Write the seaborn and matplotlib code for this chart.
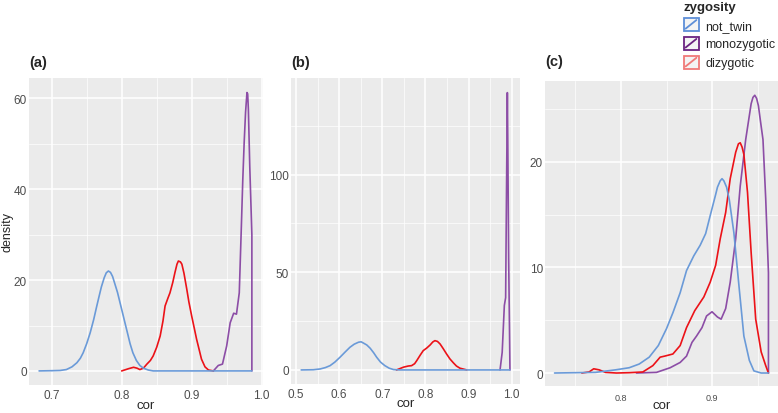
import pandas as pd
import seaborn as sns
import matplotlib.pyplot as plt
from matplotlib.patches import Patch, Rectangle
from matplotlib.lines import Line2D
from matplotlib.legend_handler import HandlerBase
from matplotlib.ticker import MultipleLocator, FixedLocator

OUTPUT_PATH = "out.png"

ZYGOSITY = ['not_twin', 'monozygotic', 'dizygotic']
DRAW_ORDER = ['monozygotic', 'dizygotic', 'not_twin']
LINE_COLORS = {'not_twin': '#6A9AD8', 'monozygotic': '#8C4DA6', 'dizygotic': '#EC1218'}
KEY_COLORS = ['#5E8FD8', '#6B2381', '#F07A78']

# panel (a) density curves
a_not_twin_x = [0.682, 0.700, 0.712, 0.721, 0.729, 0.736, 0.741, 0.745, 0.750, 0.755,
                0.760, 0.764, 0.768, 0.771, 0.775, 0.778, 0.781, 0.784, 0.787, 0.790,
                0.794, 0.798, 0.802, 0.805, 0.809, 0.812, 0.816, 0.821, 0.826, 0.831,
                0.838, 0.845, 0.986]
a_not_twin_y = [0, 0.05, 0.1, 0.3, 0.9, 1.8, 2.8, 4.0, 6.0, 8.4,
                11.3, 14.0, 16.6, 18.5, 20.5, 21.6, 22.0, 21.7, 20.8, 19.3,
                17.3, 14.8, 12.3, 10.4, 7.9, 6.0, 4.0, 2.3, 1.2, 0.6,
                0.2, 0, 0]
a_dizygotic_x = [0.800, 0.810, 0.817, 0.822, 0.826, 0.831, 0.836, 0.841, 0.845, 0.850,
                 0.855, 0.859, 0.862, 0.866, 0.869, 0.873, 0.876, 0.879, 0.881, 0.884,
                 0.886, 0.889, 0.893, 0.896, 0.900, 0.904, 0.907, 0.911, 0.914, 0.919,
                 0.924, 0.931]
a_dizygotic_y = [0, 0.5, 0.8, 0.6, 0.3, 0.6, 1.5, 2.3, 3.3, 5.2,
                 7.7, 11.0, 14.3, 16.0, 17.2, 19.5, 21.6, 23.5, 24.2, 24.0,
                 23.5, 21.5, 18.0, 15.2, 12.1, 9.2, 7.0, 4.5, 2.6, 0.9,
                 0.2, 0]
a_monozygotic_x = [0.931, 0.938, 0.944, 0.950, 0.955, 0.960, 0.964, 0.968, 0.971, 0.973,
                   0.975, 0.977, 0.979, 0.980, 0.981, 0.983, 0.986, 0.986]
a_monozygotic_y = [0, 1.2, 1.5, 5.5, 10.6, 12.7, 12.5, 17.2, 31.9, 42.0,
                   50.3, 57.0, 61.3, 61.0, 57.6, 45.0, 30.0, 0]

# panel (b)
b_not_twin_x = [0.512, 0.540, 0.556, 0.568, 0.579, 0.590, 0.602, 0.614, 0.625, 0.635,
                0.645, 0.651, 0.656, 0.664, 0.672, 0.680, 0.687, 0.696, 0.706, 0.716,
                0.726, 0.740, 0.996]
b_not_twin_y = [0, 0.1, 0.5, 1.2, 2.2, 4.0, 6.5, 9.2, 11.6, 13.2,
                14.2, 14.4, 13.8, 12.8, 11.1, 8.8, 6.5, 4.0, 2.2, 0.9,
                0.2, 0, 0]
b_dizygotic_x = [0.733, 0.749, 0.760, 0.768, 0.775, 0.780, 0.788, 0.795, 0.803, 0.811,
                 0.817, 0.822, 0.828, 0.834, 0.841, 0.849, 0.857, 0.865, 0.872, 0.880,
                 0.896]
b_dizygotic_y = [0, 1.4, 2.0, 2.2, 3.2, 4.8, 7.6, 9.9, 11.2, 12.8,
                 14.3, 15.0, 14.6, 13.3, 11.0, 8.2, 5.6, 3.6, 2.0, 0.9,
                 0]
b_monozygotic_x = [0.973, 0.978, 0.983, 0.986, 0.988, 0.990, 0.991, 0.993, 0.995, 0.996]
b_monozygotic_y = [0, 9, 33, 37, 91, 142, 117, 57, 20, 0]

# panel (c)
c_not_twin_x = [0.727, 0.772, 0.794, 0.809, 0.820, 0.831, 0.841, 0.850, 0.857, 0.865,
                0.872, 0.880, 0.887, 0.893, 0.898, 0.904, 0.906, 0.909, 0.911, 0.913,
                0.916, 0.919, 0.924, 0.927, 0.930, 0.935, 0.941, 0.946, 0.954, 0.962]
c_not_twin_y = [0, 0.06, 0.3, 0.5, 0.85, 1.5, 2.6, 4.2, 5.7, 7.6,
                9.7, 11.1, 12.1, 13.2, 14.9, 16.9, 17.6, 18.2, 18.4, 18.2,
                17.6, 16.4, 13.3, 10.6, 7.9, 3.5, 1.2, 0.2, 0, 0]
c_dizygotic_x = [0.757, 0.765, 0.770, 0.776, 0.783, 0.795, 0.809, 0.824, 0.835, 0.843,
                 0.848, 0.857, 0.865, 0.872, 0.881, 0.891, 0.898, 0.904, 0.909, 0.915,
                 0.920, 0.926, 0.929, 0.931, 0.933, 0.935, 0.939, 0.943, 0.948, 0.954,
                 0.959, 0.962]
c_dizygotic_y = [0, 0.1, 0.4, 0.3, 0.06, 0, 0.03, 0.1, 0.7, 1.5,
                 1.6, 1.8, 2.6, 4.3, 5.9, 7.2, 8.6, 10.2, 12.7, 15.2,
                 18.4, 20.9, 21.7, 21.8, 21.4, 20.7, 17.1, 11.4, 5.1, 2.0,
                 0.7, 0]
c_monozygotic_x = [0.817, 0.839, 0.854, 0.865, 0.872, 0.878, 0.883, 0.889, 0.894, 0.900,
                   0.906, 0.910, 0.915, 0.920, 0.926, 0.931, 0.937, 0.943, 0.945, 0.947,
                   0.949, 0.951, 0.953, 0.956, 0.959, 0.962, 0.962]
c_monozygotic_y = [0, 0.06, 0.5, 1.0, 1.6, 2.9, 3.5, 4.3, 5.4, 5.8,
                   5.3, 5.1, 6.1, 8.6, 12.7, 17.7, 22.1, 25.5, 26.1, 26.3,
                   26.0, 25.3, 24.0, 22.1, 16.5, 9.5, 0]

TITLES = ['(a)', '(b)', '(c)']


def to_frame(nt_x, nt_y, mz_x, mz_y, dz_x, dz_y):
    parts = [
        pd.DataFrame({'cor': nt_x, 'density': nt_y, 'zygosity': 'not_twin'}),
        pd.DataFrame({'cor': mz_x, 'density': mz_y, 'zygosity': 'monozygotic'}),
        pd.DataFrame({'cor': dz_x, 'density': dz_y, 'zygosity': 'dizygotic'}),
    ]
    return pd.concat(parts, ignore_index=True)


class BoxWithSlash(HandlerBase):
    # ggplot style key: outlined box with a diagonal stroke
    def create_artists(self, legend, orig_handle, xdescent, ydescent,
                       width, height, fontsize, trans):
        c = orig_handle.get_edgecolor()
        x0, y0 = -xdescent, -ydescent
        box = Rectangle((x0, y0), width, height, facecolor='#F4F4F4',
                        edgecolor=c, lw=1.3, transform=trans)
        slash = Line2D([x0 + 1.5, x0 + width - 1.5], [y0 + 1.5, y0 + height - 1.5],
                       color=c, lw=1.3, transform=trans)
        return [box, slash]


def style_panel(ax, xlim, ylim, xmajor, ymajor, title, pad, xlab_y):
    ax.set_facecolor('#EBEBEB')
    for s in ax.spines.values():
        s.set_visible(False)
    ax.set_xlim(*xlim)
    ax.set_ylim(*ylim)
    ax.xaxis.set_major_locator(MultipleLocator(xmajor))
    ax.xaxis.set_minor_locator(MultipleLocator(xmajor / 2))
    ax.yaxis.set_major_locator(MultipleLocator(ymajor))
    ax.yaxis.set_minor_locator(MultipleLocator(ymajor / 2))
    ax.grid(which='major', color='white', lw=1.1)
    ax.grid(which='minor', color='white', lw=0.5)
    ax.set_axisbelow(True)
    ax.tick_params(which='both', length=0, labelsize=8.5, labelcolor='#4D4D4D')
    ax.tick_params(axis='y', pad=1.5)
    ax.tick_params(axis='x', pad=3)
    ax.set_xlabel('cor', fontsize=9.5)
    ax.xaxis.set_label_coords(0.5, xlab_y)
    ax.set_ylabel('')
    ax.set_title(title, loc='left', fontweight='bold', fontsize=10.5, pad=pad)


sns.set_theme(style='darkgrid')
plt.rcParams['font.family'] = ['Liberation Sans', 'DejaVu Sans']

fig = plt.figure(figsize=(7.78, 4.14), dpi=100)
ax_a = fig.add_axes([29 / 778, 28 / 414, 234 / 778, 307 / 414])
ax_b = fig.add_axes([291 / 778, 29 / 414, 229 / 778, 306 / 414])
ax_c = fig.add_axes([545 / 778, 27 / 414, 233 / 778, 305 / 414])

frames = [
    to_frame(a_not_twin_x, a_not_twin_y, a_monozygotic_x, a_monozygotic_y, a_dizygotic_x, a_dizygotic_y),
    to_frame(b_not_twin_x, b_not_twin_y, b_monozygotic_x, b_monozygotic_y, b_dizygotic_x, b_dizygotic_y),
    to_frame(c_not_twin_x, c_not_twin_y, c_monozygotic_x, c_monozygotic_y, c_dizygotic_x, c_dizygotic_y),
]

for ax, df in zip([ax_a, ax_b, ax_c], frames):
    sns.lineplot(data=df, x='cor', y='density', hue='zygosity', hue_order=DRAW_ORDER,
                 palette=LINE_COLORS, sort=False, estimator=None, legend=False,
                 lw=1.2, ax=ax)

style_panel(ax_a, (0.6676, 1.0019), (-3.1, 64.5), 0.1, 20, TITLES[0], 9, -0.045)
style_panel(ax_b, (0.4884, 1.0193), (-7.2, 149.5), 0.1, 50, TITLES[1], 9, -0.042)
style_panel(ax_c, (0.7165, 0.9725), (-1.23, 27.65), 0.1, 10, TITLES[2], 11.5, -0.042)
ax_a.set_ylabel('density', fontsize=9)
ax_a.yaxis.set_label_coords(-0.068, 0.5)

# panel (c) uses smaller x tick labels
ax_c.xaxis.set_major_locator(FixedLocator([0.8, 0.9]))
ax_c.set_xticklabels(['0.8', '0.9'])
ax_c.tick_params(axis='x', labelsize=6.5, pad=5)

handles = [Patch(edgecolor=c, facecolor='none') for c in KEY_COLORS]
leg = fig.legend(handles, ZYGOSITY, title='zygosity', loc='upper left',
                 bbox_to_anchor=(676 / 778, 1.014), frameon=False, fontsize=9,
                 handler_map={Patch: BoxWithSlash()}, handlelength=1.2,
                 handleheight=1.2, labelspacing=0.42, handletextpad=0.55,
                 borderpad=0.1, alignment='left',
                 title_fontproperties={'weight': 'bold', 'size': 9.5})

fig.savefig(OUTPUT_PATH, dpi=100)
print(f"Saved: {OUTPUT_PATH}")
